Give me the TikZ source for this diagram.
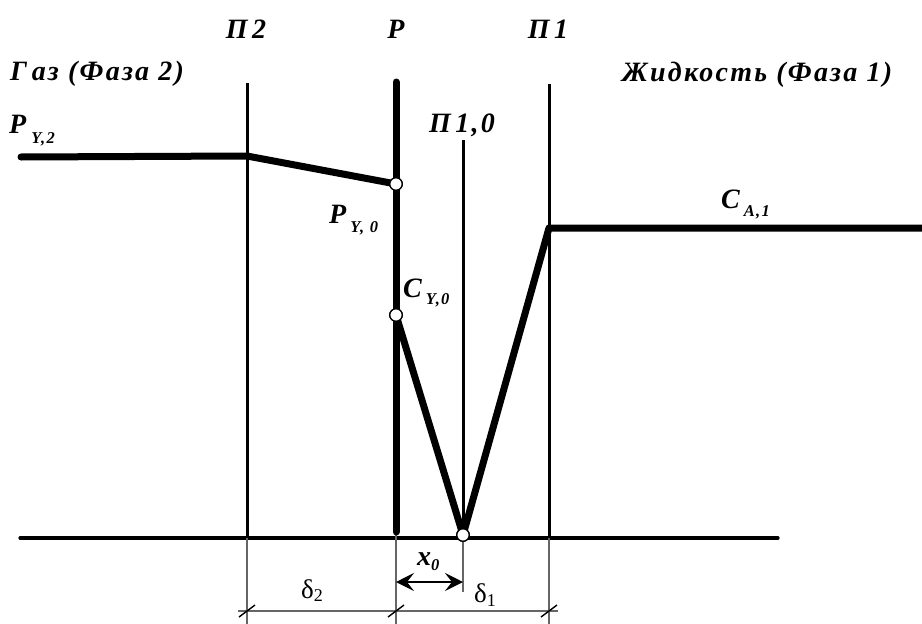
\documentclass[tikz,border=0pt]{standalone}
\usepackage{fontspec}
\setmainfont{Liberation Serif}[LetterSpace=8]
\usetikzlibrary{arrows.meta}
\newcommand{\bigtxt}{\fontsize{28}{30}\selectfont\bfseries\itshape}
\newcommand{\subtxt}{\fontsize{16.5}{18}\selectfont\bfseries\itshape\addfontfeatures{LetterSpace=8}}
\begin{document}
\begin{tikzpicture}[x=1pt,y=-1pt,
  thickline/.style={line width=7pt,line cap=round,line join=round},
  thinline/.style={line width=3pt},
  axisline/.style={line width=3.2pt,line cap=round},
  dimline/.style={line width=1.6pt,draw=black!60},
  pt/.style={circle,draw=black,fill=white,line width=1.3pt,inner sep=0pt,minimum size=12.5pt},
  lbl/.style={inner sep=0pt,font=\bigtxt,anchor=base},
  lblw/.style={inner sep=0pt,font=\bigtxt,anchor=base west},
  dlt/.style={inner sep=0pt,anchor=base west,font=\fontsize{27}{29}\selectfont}]
\useasboundingbox (0,0) rectangle (922,624);
% coordinates
\coordinate (A0) at (20,538);
\coordinate (A1) at (778,538);
\coordinate (P2t) at (247,83);
\coordinate (P2b) at (247,538);
\coordinate (P2d) at (247,624);
\coordinate (Rt) at (396,82);
\coordinate (Rb) at (396,532);
\coordinate (Rd) at (396,624);
\coordinate (P10t) at (463,140);
\coordinate (P10b) at (463,538);
\coordinate (P10d) at (463,592);
\coordinate (P1t) at (549,84);
\coordinate (P1b) at (549,538);
\coordinate (P1d) at (549,624);
\coordinate (G0) at (21,157);
\coordinate (G1) at (247,156);
\coordinate (L1) at (549,228);
\coordinate (L2) at (922,228);
\coordinate (D0) at (238,611);
\coordinate (D1) at (558,611);
\coordinate (X0) at (396,582);
\coordinate (X1) at (463,582);
% thin verticals
\draw[thinline] (P2t) -- (P2b);
\draw[thinline] (P10t) -- (P10b);
\draw[thinline] (P1t) -- (P1b);
% axis
\draw[axisline] (A0) -- (A1);
% extension lines
\draw[dimline] (P2b) -- (P2d);
\draw[dimline] (Rb) -- (Rd);
\draw[dimline] (P10b) -- (P10d);
\draw[dimline] (P1b) -- (P1d);
% dimension line
\draw[dimline] (D0) -- (D1);
\foreach \xx in {247,396,549}{
  \draw[line width=1.4pt] (\xx-8,611+6) -- (\xx+8,611-6);
}
% P boundary
\draw[thickline] (Rt) -- (Rb);
% points
\node[pt] (PY0) at (396,184) {};
\node[pt] (CY0) at (396,315) {};
\node[pt] (M) at (463,535) {};
% thick profiles
\draw[thickline] (G0) -- (G1) -- (PY0.center);
\draw[thickline] (CY0.center) -- (M.center) -- (L1) -- (L2);
\node[pt] at (PY0) {};
\node[pt] at (CY0) {};
\node[pt] at (M) {};
% x0 arrow
\draw[line width=1.8pt,{Stealth[length=18pt,width=18pt,inset=7pt]}-{Stealth[length=18pt,width=18pt,inset=7pt]}] (X0) -- (X1);
% labels
\node[lbl] (tP2) at (246,38) {П\,2};
\node[lbl] (tR) at (396,38) {P};
\node[lbl] (tP1) at (548,38) {П\,1};
\node[lblw] (tGas) at (10,80) {Г\,аз (Фаза 2)};
\node[lblw] (tLiq) at (622,81) {Жидкость (Фаза 1)};
\node[lbl] (tP10) at (462,132) {П\,1,0};
\node[lblw] (tPY2) at (9,133) {P\kern5pt\raisebox{-10pt}{\subtxt Y,2}};
\node[lblw] (tPY0) at (329,223) {P\kern4pt\raisebox{-9pt}{\subtxt Y, 0}};
\node[lblw] (tCY0) at (403,297) {C\kern4pt\raisebox{-7pt}{\subtxt Y,0}};
\node[lblw] (tCA1) at (721,208) {C\kern4pt\raisebox{-8pt}{\subtxt A,1}};
\node[lblw] (tx0) at (417,565) {x\raisebox{-5pt}{\subtxt 0}};
\node[dlt] (td2) at (301,598) {δ\raisebox{-3pt}{\fontsize{18}{20}\selectfont 2}};
\node[dlt] (td1) at (474,602) {δ\raisebox{-4pt}{\fontsize{18}{20}\selectfont 1}};
\end{tikzpicture}
\end{document}
